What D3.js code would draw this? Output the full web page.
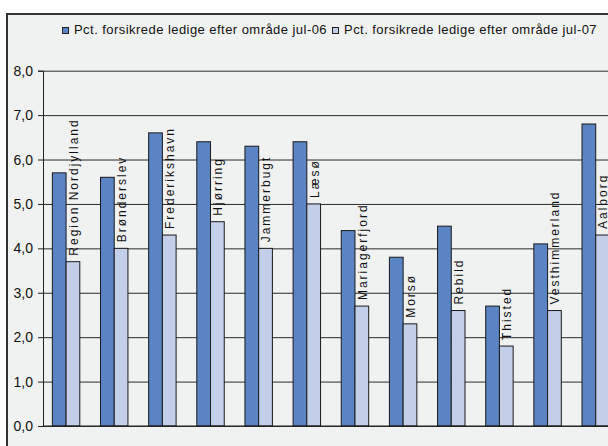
<!DOCTYPE html>
<html>
<head>
<meta charset="utf-8">
<script src="https://cdn.jsdelivr.net/npm/d3@7"></script>
<style>
  body { margin: 0; background: #fff; }
  svg { display: block; font-family: "Liberation Sans", Arial, sans-serif; }
</style>
</head>
<body>
<div id="chart"></div>
<script>
const categories = ['Region Nordjylland', 'Brønderslev', 'Frederikshavn', 'Hjørring', 'Jammerbugt', 'Læsø',
    'Mariagerfjord', 'Morsø', 'Rebild', 'Thisted', 'Vesthimmerland', 'Aalborg'];
const seriesNames = ['Pct. forsikrede ledige efter område jul-06', 'Pct. forsikrede ledige efter område jul-07'];
const values06 = [5.7, 5.6, 6.6, 6.4, 6.3, 6.4, 4.4, 3.8, 4.5, 2.7, 4.1, 6.8];
const values07 = [3.7, 4.0, 4.3, 4.6, 4.0, 5.0, 2.7, 2.3, 2.6, 1.8, 2.6, 4.3];
const yTicks = [0, 1, 2, 3, 4, 5, 6, 7, 8];
const colors = ['#5b84c4', '#c3cee9'];

const width = 608, height = 446;

const svg = d3.select('#chart').append('svg')
    .attr('width', width)
    .attr('height', height);

// outer frame, runs off the right and bottom edge
svg.append('rect')
    .attr('x', 7).attr('y', 14)
    .attr('width', 700).attr('height', 500)
    .attr('fill', '#f0f2f1')
    .attr('stroke', '#333')
    .attr('stroke-width', 2);

// legend - items laid out one after the other
const legend = svg.append('g').attr('font-size', 13).attr('letter-spacing', 0.45).attr('fill', '#111');
let lx = 62;
seriesNames.forEach(function(name, i) {
    legend.append('rect')
        .attr('x', lx + 0.5).attr('y', 27.5)
        .attr('width', 6).attr('height', 6)
        .attr('fill', colors[i])
        .attr('stroke', '#222');
    const t = legend.append('text')
        .attr('x', lx + 12).attr('y', 34)
        .text(name);
    lx = lx + 12 + t.node().getComputedTextLength() + 5;
});

const x0 = d3.scaleBand()
    .domain(categories)
    .range([42, 42 + 12 * 48.15])
    .paddingInner(0.43)
    .paddingOuter(0.215);

const x1 = d3.scaleBand()
    .domain([0, 1])
    .range([0, x0.bandwidth()]);

const y = d3.scaleLinear()
    .domain([0, 8])
    .range([426, 70.7]);

// gridlines
svg.append('g')
    .attr('transform', 'translate(43,0)')
    .call(d3.axisRight(y).tickValues(yTicks).tickSize(600).tickFormat(''))
    .call(g => g.select('.domain').remove())
    .call(g => g.selectAll('line').attr('stroke', '#2a2a2a'));

// y axis
svg.append('g')
    .attr('transform', 'translate(43,0)')
    .call(d3.axisLeft(y).tickValues(yTicks).tickSizeOuter(0).tickSize(5).tickPadding(5)
        .tickFormat(d => d.toFixed(1).replace('.', ',')))
    .call(g => g.select('.domain').attr('stroke', '#222'))
    .call(g => g.selectAll('line').attr('stroke', '#222'))
    .call(g => g.selectAll('text').attr('font-size', 14).attr('fill', '#111')
        .attr('font-family', '"Liberation Sans", Arial, sans-serif'));

// bars
const groups = svg.append('g').selectAll('g')
    .data(categories)
    .join('g')
    .attr('transform', d => 'translate(' + x0(d) + ',0)');

groups.selectAll('rect')
    .data((d, i) => [values06[i], values07[i]])
    .join('rect')
    .attr('x', (d, j) => x1(j))
    .attr('y', d => y(d))
    .attr('width', x1.bandwidth())
    .attr('height', d => y(0) - y(d))
    .attr('fill', (d, j) => colors[j])
    .attr('stroke', '#1a1a1a')
    .attr('stroke-width', 1);

// bottom axis line
svg.append('line')
    .attr('x1', 43).attr('x2', 620)
    .attr('y1', y(0)).attr('y2', y(0))
    .attr('stroke', '#222');

// category labels, rotated, on top of the jul-07 bars
groups.append('text')
    .attr('transform', (d, i) => 'translate(' + (x1(1) + x1.bandwidth() - 2) + ',' + (y(values07[i]) - 6) + ') rotate(-90)')
    .attr('font-size', 12)
    .attr('letter-spacing', 2)
    .attr('fill', '#111')
    .text(d => d);
</script>
</body>
</html>
